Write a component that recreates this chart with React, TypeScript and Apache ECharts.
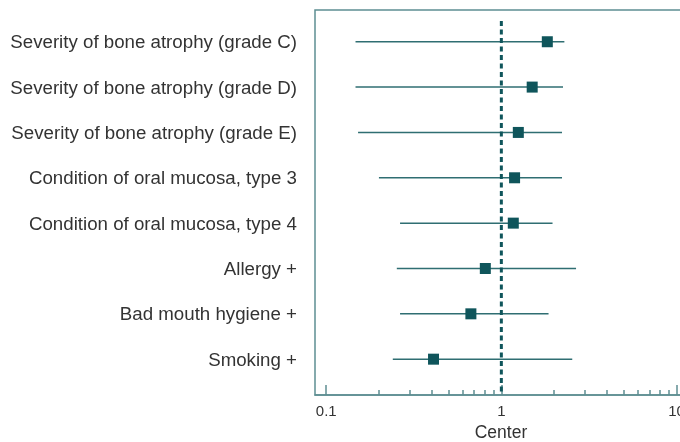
import React, { useEffect, useRef } from "react";
import * as echarts from "echarts";

const categories = [
  "Severity of bone atrophy (grade C)",
  "Severity of bone atrophy (grade D)",
  "Severity of bone atrophy (grade E)",
  "Condition of oral mucosa, type 3",
  "Condition of oral mucosa, type 4",
  "Allergy +",
  "Bad mouth hygiene +",
  "Smoking +",
];
const estimates = [1.83, 1.5, 1.25, 1.19, 1.17, 0.81, 0.67, 0.41];
const lowerCI = [0.147, 0.147, 0.152, 0.2, 0.264, 0.253, 0.264, 0.24];
const upperCI = [2.29, 2.25, 2.22, 2.22, 1.96, 2.67, 1.86, 2.54];
const majorTicks = [0.1, 1, 10];
const minorTicks = [0.2, 0.3, 0.4, 0.5, 0.6, 0.7, 0.8, 0.9, 2, 3, 4, 5, 6, 7, 8, 9];
const referenceValue = 1;

const L = (v: number) => Math.log10(v);

export default function App() {
  const ref = useRef<HTMLDivElement>(null);
  useEffect(() => {
    if (!ref.current) return;
    const chart = echarts.init(ref.current, undefined, { renderer: "svg" });
    const xMin = -1.064;
    const xMax = 1.1;
    const yMin = 0.3;
    const yMax = 8.79;
    const teal = "#5e8e92";
    const dark = "#0f555b";
    const fontFamily = "Liberation Sans, Arial, Helvetica, sans-serif";
    chart.setOption({
      animation: false,
      grid: {
        left: 315,
        right: -14,
        top: 10,
        bottom: 47,
        show: true,
        borderColor: teal,
        borderWidth: 1.5,
        backgroundColor: "transparent",
        outerBoundsMode: "none",
        containLabel: false,
      },
      xAxis: [
        {
          type: "value",
          min: xMin,
          max: xMax,
          position: "bottom",
          splitLine: { show: false },
          axisLine: { show: true, lineStyle: { color: teal, width: 1.5 } },
          axisTick: {
            show: true,
            inside: true,
            length: 10,
            customValues: majorTicks.map(L),
            lineStyle: { color: teal, width: 1.5 },
          },
          axisLabel: {
            show: true,
            customValues: majorTicks.map(L),
            formatter: (v: number) => {
              const r = Math.round(v);
              return r < 0 ? "0.1" : String(Math.pow(10, r));
            },
            color: "#333",
            fontSize: 15,
            fontFamily,
            margin: 8,
            showMinLabel: true,
            showMaxLabel: true,
          },
          name: "Center",
          nameLocation: "middle",
          nameGap: 28,
          nameTextStyle: { color: "#333", fontSize: 17.5, fontFamily, padding: [0, 7, 0, 0] },
        },
        {
          type: "value",
          min: xMin,
          max: xMax,
          position: "bottom",
          splitLine: { show: false },
          axisLine: { show: false },
          axisTick: {
            show: true,
            inside: true,
            length: 5,
            customValues: minorTicks.map(L),
            lineStyle: { color: teal, width: 1.5 },
          },
          axisLabel: { show: false },
        },
      ],
      yAxis: {
        type: "value",
        inverse: true,
        min: yMin,
        max: yMax,
        splitLine: { show: false },
        axisLine: { show: false },
        axisTick: { show: false },
        axisLabel: {
          customValues: categories.map((_, i) => i + 1),
          formatter: (v: number) => categories[Math.round(v) - 1] ?? "",
          color: "#333",
          fontSize: 18.7,
          fontFamily,
          margin: 18,
          showMinLabel: true,
          showMaxLabel: true,
        },
      },
      series: [
        {
          type: "custom",
          xAxisIndex: 0,
          renderItem: (params: any, api: any) => {
            const lo = api.coord([api.value(0), api.value(2)]);
            const hi = api.coord([api.value(1), api.value(2)]);
            return {
              type: "line",
              shape: { x1: lo[0], y1: lo[1], x2: hi[0], y2: hi[1] },
              style: { stroke: "#2f6e72", lineWidth: 1.5 },
            };
          },
          encode: { x: [0, 1], y: 2 },
          data: categories.map((_, i) => [L(lowerCI[i]), L(upperCI[i]), i + 1]),
          z: 2,
        },
        {
          type: "line",
          xAxisIndex: 0,
          data: [
            [L(referenceValue), 0.54],
            [L(referenceValue), yMax],
          ],
          symbol: "none",
          lineStyle: { color: dark, width: 3, type: [5, 3.5] },
          z: 3,
        },
        {
          type: "scatter",
          xAxisIndex: 0,
          symbol: "rect",
          symbolSize: 11,
          itemStyle: { color: dark, opacity: 1 },
          data: categories.map((_, i) => [L(estimates[i]), i + 1]),
          z: 4,
        },
      ],
    });
    return () => chart.dispose();
  }, []);
  return (
    <div
      ref={ref}
      style={{ position: "fixed", left: 0, top: 0, width: 680, height: 442 }}
    />
  );
}
